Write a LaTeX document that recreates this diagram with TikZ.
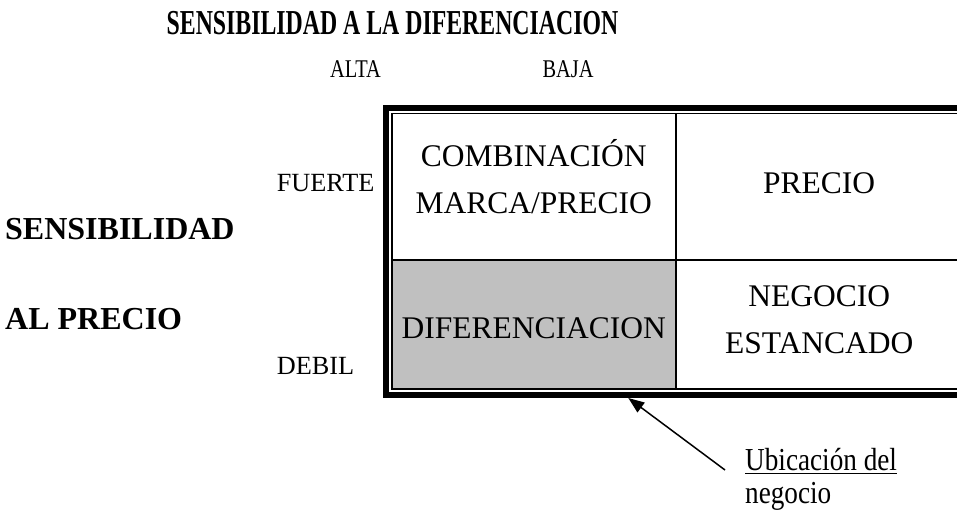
\documentclass[tikz,border=0pt]{standalone}
\usepackage{fontspec}
\setmainfont{Liberation Serif}
\newfontfamily\titulofont[FakeStretch=0.68]{Liberation Serif}
\newfontfamily\angostafont[FakeStretch=0.8]{Liberation Serif}
\newfontfamily\notafont[FakeStretch=0.85]{Liberation Serif}
\usetikzlibrary{positioning}
\usetikzlibrary{arrows.meta}
\definecolor{gris}{HTML}{C0C0C0}
\newcommand{\subrayado}[1]{\setbox0\hbox{#1}\rlap{\rule[-4.3pt]{\wd0}{1.5pt}}\box0}
\tikzstyle{celda} = [rectangle, minimum width=284pt, minimum height=146.3pt, text centered, align=center, draw=black, line width=1.6pt, inner sep=0pt, outer sep=0pt, text depth=0pt, font=\fontsize{31.5}{47}\selectfont]
\tikzstyle{etiqueta} = [inner sep=0pt, anchor=base west, font=\fontsize{26.25}{30}\selectfont]
\tikzstyle{columna} = [inner sep=0pt, anchor=base, font=\angostafont\fontsize{25.5}{30}\selectfont]
\tikzstyle{eje} = [inner sep=0pt, anchor=base west, font=\bfseries\fontsize{32}{36}\selectfont]
\tikzstyle{nota} = [inner sep=0pt, anchor=base west, align=left, font=\notafont\fontsize{32}{33.5}\selectfont]
\tikzstyle{marco} = [line width=6pt]
\tikzstyle{arrow} = [line width=1.5pt,-{Triangle[length=16pt,width=12pt]}]

\begin{document}
\begin{tikzpicture}[x=1pt, y=1pt]
    \useasboundingbox (0,0) rectangle (957,511);
    \clip (0,0) rectangle (957,511);
        % matriz
        \node (combinacion) [celda, text height=54.7pt] at (533.8,324.35) {COMBINACIÓN\\MARCA/PRECIO};
        \node (precio) [celda, right=0pt of combinacion, minimum width=286.7pt, text height=13.3pt] {PRECIO};
        \node (diferenciacion) [celda, below=0pt of combinacion, minimum height=129.4pt, text height=27.6pt, fill=gris] {DIFERENCIACION};
        \node (negocio) [celda, below=0pt of precio, minimum width=286.7pt, minimum height=129.4pt, text height=57.6pt] {NEGOCIO\\ESTANCADO};
        \draw [marco] ([shift={(-5.7,5.7)}]combinacion.north west) rectangle ([shift={(5.7,-5.7)}]negocio.south east);

        % textos
        \node (titulo) [anchor=base, inner sep=0pt, font=\titulofont\bfseries\fontsize{35}{40}\selectfont] at (392.5,476) {SENSIBILIDAD A LA DIFERENCIACION};
        \node (alta) [columna] at (355.5,433) {ALTA};
        \node (baja) [columna] at (568,433) {BAJA};
        \node (fuerte) [etiqueta] at (276.7,319.3) {FUERTE};
        \node (debil) [etiqueta] at (276.7,136) {DEBIL};
        \node (sensibilidad) [eje] at (5,271) {SENSIBILIDAD};
        \node (alprecio) [eje] at (5,181) {AL PRECIO};
        \node (ubicacion) [nota] at (745,7.5) {\subrayado{Ubicación del}\\negocio};

        \coordinate (ubic) at (628.3,113);
        \draw [arrow] ([shift={(-20,33.5)}]ubicacion.base west) -- (ubic);
    \end{tikzpicture}
\end{document}
